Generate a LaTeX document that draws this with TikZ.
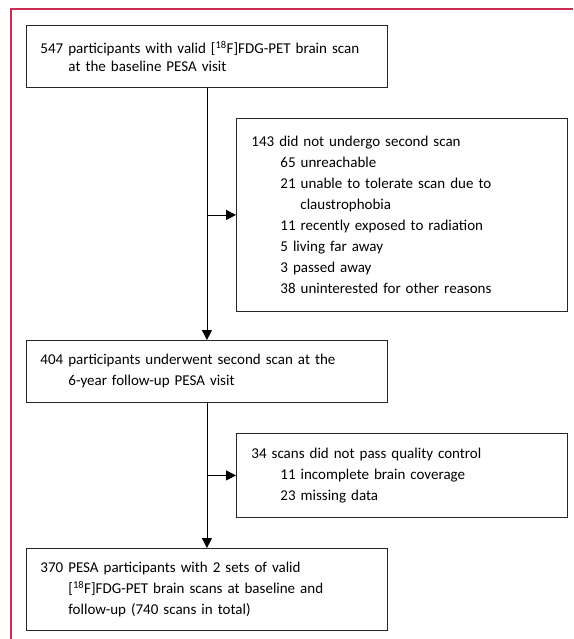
\documentclass[tikz,border=0pt]{standalone}
\usepackage{fontspec}
\setmainfont{Carlito}
\usetikzlibrary{arrows.meta}
\definecolor{framered}{RGB}{205,45,85}
\newcommand{\fdg}{[\textsuperscript{18}F]FDG-PET}

\begin{document}
\begin{tikzpicture}[x=1pt,y=1pt,
    box/.style={draw=black!85, line width=0.9pt, anchor=north west, inner xsep=14pt, inner ysep=0pt, align=left, font=\fontsize{15}{21}\selectfont},
    flow/.style={line width=0.9pt, -{Triangle[length=10pt,width=10pt]}}]
    \useasboundingbox (0,0) rectangle (573,-639);
    \draw[framered, line width=1.1pt] (11,-639) -- (11,-9) -- (573,-9);

    \node[box, text width=333pt, minimum height=62pt] (baseline) at (26,-25) {547 participants with valid \fdg{} brain scan\\[-3pt]\hspace*{28pt}at the baseline PESA visit};
    \node[box, inner xsep=15pt, text width=301pt, minimum height=193pt] (noscan) at (236,-118) {143 did not undergo second scan\\
        \hspace*{29pt}65 unreachable\\
        \hspace*{29pt}21 unable to tolerate scan due to\\
        \hspace*{49pt}claustrophobia\\
        \hspace*{29pt}11 recently exposed to radiation\\
        \hspace*{29pt}5 living far away\\
        \hspace*{29pt}3 passed away\\
        \hspace*{29pt}38 uninterested for other reasons};
    \node[box, text width=333pt, minimum height=62pt] (followup) at (26,-340) {404 participants underwent second scan at the\\\hspace*{28pt}6-year follow-up PESA visit};
    \node[box, inner xsep=15pt, text width=301pt, minimum height=84pt] (qc) at (236,-433) {34 scans did not pass quality control\\
        \hspace*{29pt}11 incomplete brain coverage\\
        \hspace*{29pt}23 missing data};
    \node[box, text width=333pt, minimum height=82pt] (final) at (26,-548) {370 PESA participants with 2 sets of valid\\\hspace*{28pt}\fdg{} brain scans at baseline and\\\hspace*{28pt}follow-up (740 scans in total)};

    \draw[flow] (baseline.south) -- (followup.north);
    \draw[flow] (baseline.south |- noscan.west) -- (noscan.west);
    \draw[flow] (followup.south) -- (final.north);
    \draw[flow] (followup.south |- qc.west) -- (qc.west);
\end{tikzpicture}
\end{document}
